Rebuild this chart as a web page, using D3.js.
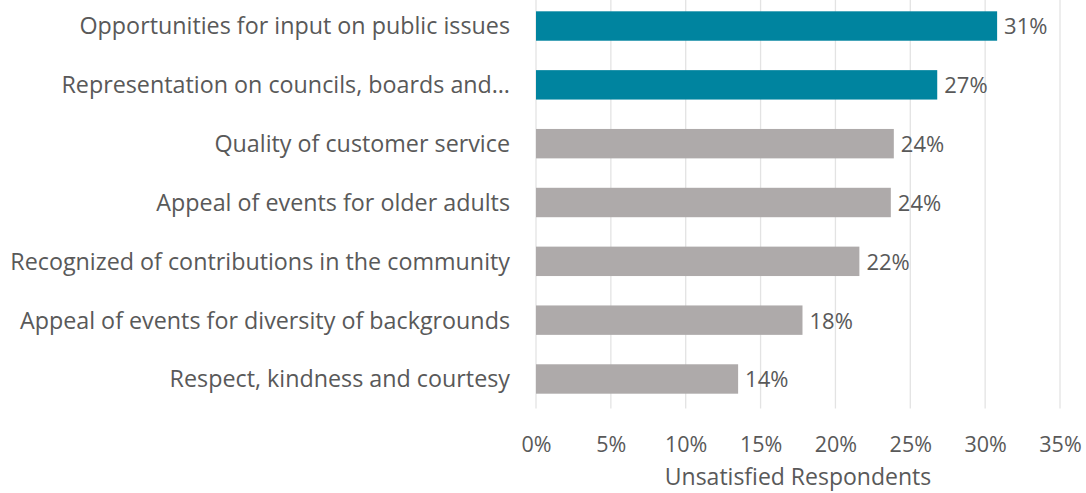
<!DOCTYPE html>
<html><head><meta charset="utf-8">
<script src="https://cdn.jsdelivr.net/npm/d3@7"></script>
<style>body{margin:0;background:#fff;} svg{display:block;}</style>
</head><body>
<svg id="c" width="1086" height="493"></svg>
<script>
const categories = [
  "Opportunities for input on public issues",
  "Representation on councils, boards and\u2026",
  "Quality of customer service",
  "Appeal of events for older adults",
  "Recognized of contributions in the community",
  "Appeal of events for diversity of backgrounds",
  "Respect, kindness and courtesy"
];
const values = [30.8, 26.8, 23.9, 23.7, 21.6, 17.8, 13.5];
const valueLabels = ["31%", "27%", "24%", "24%", "22%", "18%", "14%"];
const highlighted = [true, true, false, false, false, false, false];
const xTicks = [0, 5, 10, 15, 20, 25, 30, 35];
const xTitle = "Unsatisfied Respondents";

(function () {
const svg = d3.select("#c");
const font = "'Open Sans', sans-serif";
const textColor = "#595959";
const pLeft = 536, pRight = 1060, pTop = -3.4, pBottom = 408.4;

const x = d3.scaleLinear().domain([0, 35]).range([pLeft, pRight]);
const y = d3.scaleBand().domain(categories).range([pTop, pBottom]).paddingInner(0.5).paddingOuter(0.25);

svg.append("g").selectAll("line").data(xTicks).join("line")
  .attr("x1", d => x(d)).attr("x2", d => x(d))
  .attr("y1", 0).attr("y2", pBottom)
  .attr("stroke", "#e3e3e3").attr("stroke-width", 1.3);

svg.append("g").selectAll("rect").data(categories).join("rect")
  .attr("x", x(0)).attr("y", d => y(d))
  .attr("width", (d, i) => x(values[i]) - x(0))
  .attr("height", y.bandwidth())
  .attr("fill", (d, i) => highlighted[i] ? "#00849f" : "#aeaaaa");

svg.append("g").selectAll("text").data(categories).join("text")
  .attr("x", (d, i) => x(values[i]) + 7)
  .attr("y", d => y(d) + y.bandwidth() / 2)
  .attr("dy", "0.38em")
  .attr("font-family", font).attr("font-size", 22).attr("fill", textColor)
  .text((d, i) => valueLabels[i]);

const yAxis = d3.axisLeft(y).tickSize(0).tickPadding(0);
const yg = svg.append("g").attr("transform", `translate(${pLeft - 26},0)`).call(yAxis);
yg.select(".domain").remove();
yg.selectAll("text").attr("font-family", font).attr("font-size", 23.3).attr("fill", textColor).attr("dy", "0.36em");

const xAxis = d3.axisBottom(x).tickValues(xTicks).tickSize(0).tickPadding(0).tickFormat(d => d + "%");
const xg = svg.append("g").attr("transform", "translate(0,452)").call(xAxis);
xg.select(".domain").remove();
xg.selectAll("text").attr("font-family", font).attr("font-size", 21.5).attr("fill", textColor).attr("y", 0).attr("dy", 0);

svg.append("text")
  .attr("x", (pLeft + pRight) / 2).attr("y", 485)
  .attr("text-anchor", "middle")
  .attr("font-family", font).attr("font-size", 23).attr("fill", textColor)
  .text(xTitle);
})();
</script>
</body></html>
